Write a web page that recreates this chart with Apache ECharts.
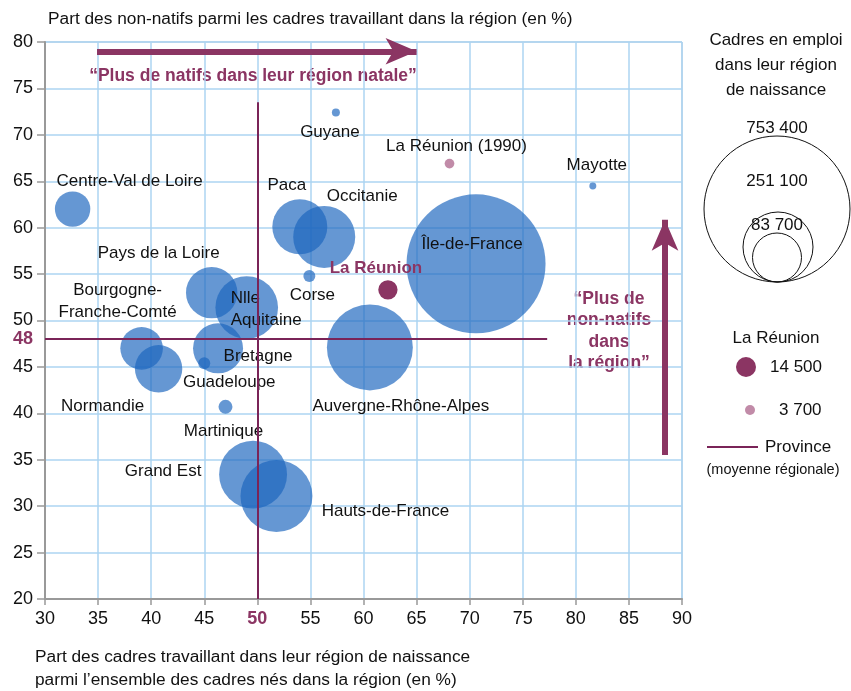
<!DOCTYPE html>
<html>
<head>
<meta charset="utf-8">
<script src="https://cdn.jsdelivr.net/npm/echarts@6/dist/echarts.min.js"></script>
<style>
html,body{margin:0;padding:0;background:#fff;}
#chart{width:851px;height:691px;}
</style>
</head>
<body>
<div id="chart"></div>
<script>
// ---- Data ----
const regionNames = ['Centre-Val de Loire','Paca','Occitanie','Guyane','Mayotte','Île-de-France','Corse','Pays de la Loire','Bourgogne-\nFranche-Comté','Nlle\nAquitaine','Bretagne','Guadeloupe','Normandie','Martinique','Auvergne-Rhône-Alpes','Grand Est','Hauts-de-France'];
const regionX = [32.6, 54.0, 56.3, 57.4, 81.6, 70.6, 54.9, 45.7, 39.1, 49.0, 46.3, 45.0, 40.7, 47.0, 60.6, 49.6, 51.8];
const regionY = [62.0, 60.1, 59.0, 72.4, 64.5, 56.1, 54.8, 53.0, 47.0, 51.4, 47.0, 45.4, 44.8, 40.7, 47.1, 33.4, 31.1];
const regionCadres = [48900, 118000, 150000, 2500, 1900, 753400, 5600, 103000, 70800, 153000, 97500, 5600, 87600, 7600, 288000, 180000, 202000];
const reunionNames = ['La Réunion', 'La Réunion (1990)'];
const reunionX = [62.3, 68.1];
const reunionY = [53.3, 66.9];
const reunionCadres = [14500, 3700];
const provinceX = 50;
const provinceY = 48;
const legendValues = ['753 400', '251 100', '83 700'];
const reunionLegendValues = ['14 500', '3 700'];

// ---- Layout / style (not data) ----
const labelOffsets = {
  'Centre-Val de Loire':[57,-28], 'Paca':[-13,-41], 'Occitanie':[38,-41], 'Guyane':[-6,20],
  'Mayotte':[4,-21], 'Île-de-France':[-4,-20], 'Corse':[3,19], 'Pays de la Loire':[-53,-39],
  'Bourgogne-\nFranche-Comté':[-24,-47], 'Nlle\nAquitaine':[-16,2], 'Bretagne':[40,8],
  'Guadeloupe':[25,19], 'Normandie':[-56,38], 'Martinique':[-2,24], 'Auvergne-Rhône-Alpes':[31,59],
  'Grand Est':[-90,-3], 'Hauts-de-France':[109,15], 'La Réunion':[-12,-22], 'La Réunion (1990)':[7,-17]
};
const FONT = 'Liberation Sans, Arial, sans-serif';
const PURPLE = '#8b3563';
const MAXR = 69.5, MAXV = 753400;
const sizeOf = v => 2 * MAXR * Math.sqrt(v / MAXV);

function mkData(names, xs, ys, vs) {
  return names.map((n, i) => {
    const d = { name: n, value: [xs[i], ys[i], vs[i]] };
    const off = labelOffsets[n] || [0, 0];
    d.label = { offset: off };
    if (n === 'Nlle\nAquitaine') d.label.align = 'left';
    return d;
  });
}
const regionData = mkData(regionNames, regionX, regionY, regionCadres)
  .sort((a, b) => b.value[2] - a.value[2]);
const reunionData = mkData(reunionNames, reunionX, reunionY, reunionCadres);
reunionData[0].itemStyle = { color: PURPLE, opacity: 1 };
reunionData[0].label.color = PURPLE;
reunionData[0].label.fontWeight = 'bold';
reunionData[1].itemStyle = { color: '#c18ba8', opacity: 1 };

const labelBase = { show: true, position: 'inside', formatter: p => p.name, color: '#111', opacity: 1, fontSize: 17, lineHeight: 22, fontFamily: FONT, textBorderWidth: 0, textBorderColor: 'transparent', textShadowBlur: 0 };

const chart = echarts.init(document.getElementById('chart'), null, { renderer: 'canvas' });

const option = {
  animation: false,
  textStyle: { fontFamily: FONT },
  grid: { left: 45, top: 42, width: 637, height: 557, show: true, borderColor: '#9db9d2', borderWidth: 1, backgroundColor: 'transparent' },
  xAxis: {
    type: 'value', min: 30, max: 90, interval: 5,
    axisLine: { show: true, onZero: false, lineStyle: { color: '#999', width: 2 } },
    axisTick: { show: true, length: 6, lineStyle: { color: '#999', width: 1.5 } },
    splitLine: { show: true, lineStyle: { color: '#acd5f2', width: 1.5 } },
    axisLabel: {
      margin: 11, fontSize: 18, color: '#111', fontFamily: FONT,
      formatter: v => v === provinceX ? '{p|' + v + '}' : String(v),
      rich: { p: { color: PURPLE, fontWeight: 'bold', fontSize: 18, fontFamily: FONT } }
    }
  },
  yAxis: {
    type: 'value', min: 20, max: 80, interval: 5,
    axisLine: { show: true, onZero: false, lineStyle: { color: '#999', width: 2 } },
    axisTick: { show: true, length: 8, lineStyle: { color: '#999', width: 1.5 } },
    splitLine: { show: true, lineStyle: { color: '#acd5f2', width: 1.5 } },
    axisLabel: { margin: 12, fontSize: 18, color: '#111', fontFamily: FONT }
  },
  series: [
    {
      type: 'scatter', name: 'province', data: [], silent: true, z: 1,
      markLine: {
        silent: true, symbol: ['none', 'none'], animation: false,
        lineStyle: { color: '#7a2458', width: 2, type: 'solid', opacity: 1 },
        label: { show: false },
        data: [
          [{ coord: [30, provinceY], label: { show: true, position: 'start', formatter: String(provinceY), color: PURPLE, fontWeight: 'bold', fontSize: 18, fontFamily: FONT, distance: 12 } }, { coord: [77.3, provinceY] }],
          [{ coord: [provinceX, 20] }, { coord: [provinceX, 73.5] }]
        ]
      }
    },
    {
      type: 'scatter', name: 'arrows', data: [], silent: true, z: 1,
      markLine: {
        silent: true, symbol: ['none', 'arrow'], symbolSize: [20, 31], animation: false,
        lineStyle: { color: PURPLE, width: 6, type: 'solid', opacity: 1 },
        label: { show: false },
        data: [
          [{ coord: [34.9, 79] }, { coord: [65, 79] }],
          [{ coord: [88.4, 35.5] }, { coord: [88.4, 60.85] }]
        ]
      }
    },
    {
      type: 'scatter', name: 'régions', z: 2,
      data: regionData,
      symbolSize: v => sizeOf(v[2]),
      itemStyle: { color: 'rgba(28,102,190,0.68)', opacity: 1 },
      label: labelBase,
      emphasis: { disabled: true }
    },
    {
      type: 'scatter', name: 'réunion', z: 3,
      data: reunionData,
      symbolSize: v => sizeOf(v[2]),
      itemStyle: { opacity: 1 },
      label: labelBase,
      emphasis: { disabled: true }
    }
  ],
  graphic: [
    { type: 'text', left: 48, top: 11, style: { text: 'Part des non-natifs parmi les cadres travaillant dans la région (en %)', font: '17.3px ' + FONT, fill: '#111' } },
    { type: 'text', left: 35, top: 646, style: { text: 'Part des cadres travaillant dans leur région de naissance\nparmi l’ensemble des cadres nés dans la région (en %)', font: '17.3px ' + FONT, fill: '#111', lineHeight: 23 } },
    { type: 'text', x: 253, y: 76, style: { text: '“Plus de natifs dans leur région natale”', font: 'bold 17.5px ' + FONT, fill: PURPLE, align: 'center', verticalAlign: 'middle' } },
    { type: 'text', x: 609, y: 331, style: { text: '“Plus de\nnon-natifs\ndans\nla région”', font: 'bold 17.5px ' + FONT, fill: PURPLE, align: 'center', verticalAlign: 'middle', lineHeight: 21.5 } },
    // size legend
    { type: 'text', x: 776, y: 65, style: { text: 'Cadres en emploi\ndans leur région\nde naissance', font: '17px ' + FONT, fill: '#111', align: 'center', verticalAlign: 'middle', lineHeight: 25 } },
    { type: 'circle', shape: { cx: 777, cy: 209, r: 73 }, style: { fill: 'none', stroke: '#111', lineWidth: 1 } },
    { type: 'circle', shape: { cx: 778, cy: 247, r: 35 }, style: { fill: 'none', stroke: '#111', lineWidth: 1 } },
    { type: 'circle', shape: { cx: 777, cy: 257.5, r: 24.5 }, style: { fill: 'none', stroke: '#111', lineWidth: 1 } },
    { type: 'text', x: 777, y: 128, style: { text: legendValues[0], font: '17px ' + FONT, fill: '#111', align: 'center', verticalAlign: 'middle' } },
    { type: 'text', x: 777, y: 181, style: { text: legendValues[1], font: '17px ' + FONT, fill: '#111', align: 'center', verticalAlign: 'middle' } },
    { type: 'text', x: 777, y: 225, style: { text: legendValues[2], font: '17px ' + FONT, fill: '#111', align: 'center', verticalAlign: 'middle' } },
    { type: 'text', x: 776, y: 338, style: { text: 'La Réunion', font: '17px ' + FONT, fill: '#111', align: 'center', verticalAlign: 'middle' } },
    { type: 'circle', shape: { cx: 746, cy: 367, r: 10 }, style: { fill: PURPLE } },
    { type: 'text', x: 770, y: 367, style: { text: reunionLegendValues[0], font: '17px ' + FONT, fill: '#111', verticalAlign: 'middle' } },
    { type: 'circle', shape: { cx: 750, cy: 410, r: 5 }, style: { fill: '#c18ba8' } },
    { type: 'text', x: 779, y: 410, style: { text: reunionLegendValues[1], font: '17px ' + FONT, fill: '#111', verticalAlign: 'middle' } },
    { type: 'line', shape: { x1: 707, y1: 447, x2: 758, y2: 447 }, style: { stroke: '#7a2458', lineWidth: 2 } },
    { type: 'text', x: 765, y: 447, style: { text: 'Province', font: '17px ' + FONT, fill: '#111', verticalAlign: 'middle' } },
    { type: 'text', x: 773, y: 470, style: { text: '(moyenne régionale)', font: '14.5px ' + FONT, fill: '#111', align: 'center', verticalAlign: 'middle' } }
  ]
};
chart.setOption(option);
</script>
</body>
</html>
